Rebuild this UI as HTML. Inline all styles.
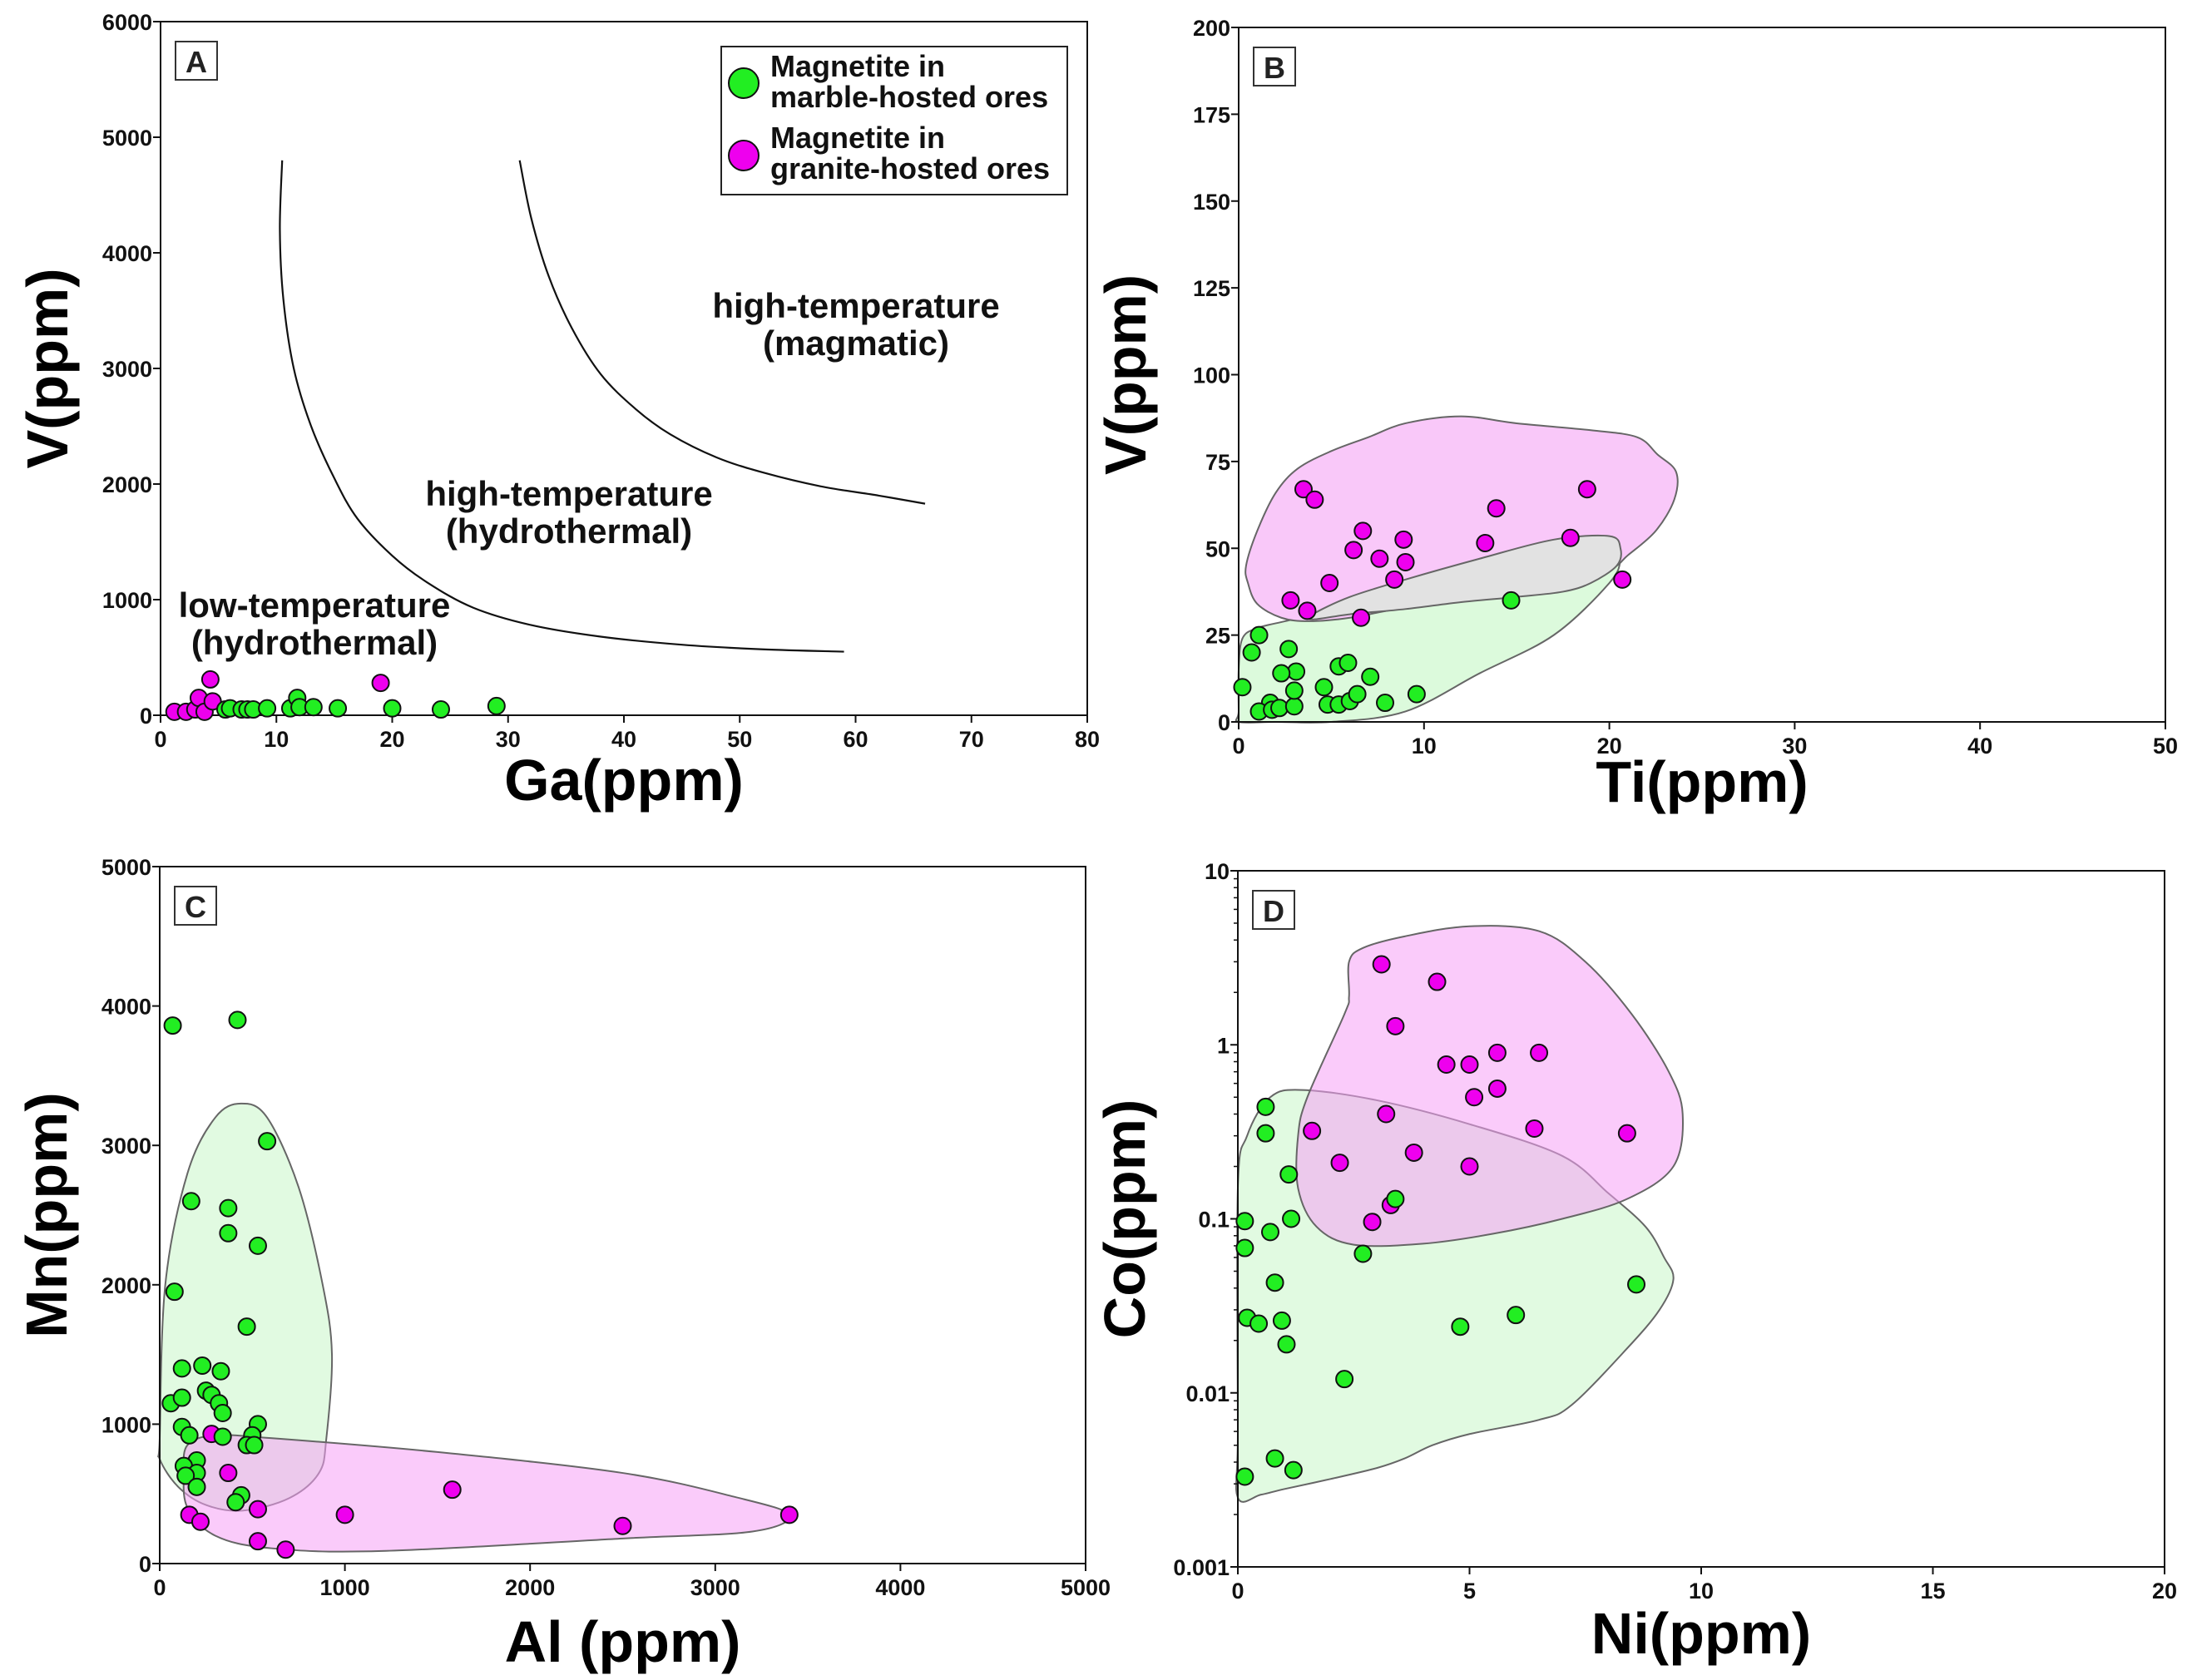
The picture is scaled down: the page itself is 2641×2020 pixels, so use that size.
<!DOCTYPE html>
<html><head><meta charset="utf-8"><style>
html,body{margin:0;padding:0;background:#fff}
svg{display:block}
text{font-family:"Liberation Sans",sans-serif}
.tick{font-family:"Liberation Sans Narrow","Liberation Sans",sans-serif;font-weight:bold;font-size:27px;fill:#111}
.title{font-weight:bold;font-size:70px;fill:#000}
.reg{font-weight:bold;font-size:42px;fill:#111;font-family:"Liberation Sans Narrow","Liberation Sans",sans-serif}
.leg{font-weight:bold;font-size:36px;fill:#111;font-family:"Liberation Sans Narrow","Liberation Sans",sans-serif}
</style></head><body>
<svg id="fig" width="2641" height="2020" viewBox="0 0 2641 2020" xmlns="http://www.w3.org/2000/svg"></svg>
<script>
// ---- Panel A data (Ga vs V)
const aTicksX=[0,10,20,30,40,50,60,70,80];
const aTicksY=[0,1000,2000,3000,4000,5000,6000];
const aGreenX=[5.6,6,7,7.5,8,9.2,11.2,11.8,12,13.2,15.3,20,24.2,29];
const aGreenY=[50,60,50,50,50,60,60,150,70,70,60,60,50,80];
const aMagX=[1.2,2.2,3,3.3,3.8,4.3,4.5,19];
const aMagY=[30,30,50,150,30,310,120,280];
const aCurve1X=[10.5,10.3,10.6,11.5,13,15,17,20,23,27,32,38,45,52,59];
const aCurve1Y=[4800,4200,3600,3000,2500,2050,1700,1380,1150,930,780,680,610,570,550];
const aCurve2X=[31,32,33.5,35.5,38,41,44,48,52,57,62,66];
const aCurve2Y=[4800,4300,3800,3350,2950,2650,2430,2230,2100,1980,1900,1830];
// ---- Panel B data (Ti vs V)
const bTicksX=[0,10,20,30,40,50];
const bTicksY=[0,25,50,75,100,125,150,175,200];
const bMagX=[3.5,4.1,6.7,6.2,7.6,8.9,9,8.4,4.9,2.8,3.7,6.6,13.3,13.9,18.8,17.9,20.7];
const bMagY=[67,64,55,49.5,47,52.5,46,41,40,35,32,30,51.5,61.5,67,53,41];
const bGreenX=[0.2,0.7,1.1,2.7,3.1,2.3,1.7,1.1,1.8,2.2,3,3,4.6,4.8,5.4,5.4,5.9,6,6.4,7.1,7.9,9.6,14.7];
const bGreenY=[10,20,25,21,14.5,14,5.5,3,3.5,4,4.5,9,10,5,5,16,17,6,8,13,5.5,8,35];
const bMagRegX=[0.4,1,2,3.2,5,7,9,12,15,19,21.5,22.6,23.6,23.5,22.5,21,20,17,13,9,6,3.8,2.3,1,0.5];
const bMagRegY=[45,55,66,73,78,82,86,88,86,84,82,77,72,64,55,48,44,40,36,33,30,29,30,34,40];
const bGreenRegX=[0,0,2,5,9,13,17,20,20.6,20.4,19,17,13,9,6,4,2.5,1,0.2,0];
const bGreenRegY=[3,0,0,0,3,14,25,40,47,52,53.5,52,46,41,36,31,29,27,24,15];
const bGreyRegX=[4,6,9,12,15,17.5,19,20.4,20.6,20,17,13,9,6,4];
const bGreyRegY=[29.5,31,32.5,34.5,36,37.5,40,45,50,53.5,52.5,47,41,36,31];
// ---- Panel C data (Al vs Mn)
const cTicksX=[0,1000,2000,3000,4000,5000];
const cTicksY=[0,1000,2000,3000,4000,5000];
const cGreenX=[70,420,580,170,370,370,530,80,470,120,230,330,60,120,250,280,320,340,120,160,340,530,500,470,510,200,130,200,140,200,440,410];
const cGreenY=[3860,3900,3030,2600,2550,2370,2280,1950,1700,1400,1420,1380,1150,1190,1240,1210,1150,1080,980,920,910,1000,920,850,850,740,700,650,630,550,490,440];
const cMagX=[280,370,530,160,220,530,680,1000,1580,2500,3400];
const cMagY=[930,650,390,350,300,160,100,350,530,270,350];
const cGreenRegX=[0,30,150,300,440,580,750,880,930,900,860,700,450,250,100,0];
const cGreenRegY=[900,2000,2800,3200,3300,3200,2700,2000,1500,900,650,470,380,420,550,750];
const cMagRegX=[150,300,600,1500,2500,3100,3400,3200,2500,1200,600,300,150,130];
const cMagRegY=[850,920,900,800,650,480,350,230,180,90,110,200,400,650];
// ---- Panel D data (Ni vs Co, log)
const dTicksX=[0,5,10,15,20];
const dTicksY=[0.001,0.01,0.1,1,10];
const dMagX=[3.1,4.3,3.4,5.6,6.5,4.5,5,5.6,5.1,3.2,1.6,6.4,8.4,3.8,2.2,5,3.3,2.9];
const dMagY=[2.9,2.3,1.28,0.9,0.9,0.77,0.77,0.56,0.5,0.4,0.32,0.33,0.31,0.24,0.21,0.2,0.12,0.096];
const dGreenX=[0.6,0.6,1.1,0.15,1.15,0.7,0.15,3.4,2.7,0.8,8.6,0.2,0.45,0.95,4.8,6,1.05,2.3,0.8,1.2,0.15];
const dGreenY=[0.44,0.31,0.18,0.097,0.1,0.084,0.068,0.13,0.063,0.043,0.042,0.027,0.025,0.026,0.024,0.028,0.019,0.012,0.0042,0.0036,0.0033];
const dMagRegX=[1.3,1.5,2.3,2.4,2.4,2.7,3.6,5,6.5,7.5,8.5,9.3,9.6,9.4,8.4,7,5.5,4,2.5,1.7,1.3];
const dMagRegY=[0.3,0.5,1.5,1.9,3,3.6,4.2,4.8,4.5,3,1.5,0.7,0.4,0.2,0.13,0.1,0.082,0.072,0.071,0.09,0.15];
const dGreenRegX=[0,0,0.5,1,2,3,3.6,4.2,5,6.5,7.2,8.4,9.1,9.4,9.2,8.8,8,7,5,3,1.4,0.7,0.2,0];
const dGreenRegY=[0.006,0.0025,0.0026,0.0028,0.0032,0.0037,0.0042,0.005,0.0058,0.007,0.0085,0.018,0.03,0.045,0.06,0.09,0.14,0.23,0.35,0.48,0.55,0.5,0.3,0.15];

const NS='http://www.w3.org/2000/svg';
const svg=document.getElementById('fig');
function mk(tag,attrs,parent){const e=document.createElementNS(NS,tag);for(const k in attrs)e.setAttribute(k,attrs[k]);(parent||svg).appendChild(e);return e;}

function panel(p){
  const g=mk('g',{});
  
  
  const sx=v=>p.l+(v-p.x0)/(p.x1-p.x0)*(p.r-p.l);
  const sy=p.log? v=>p.b-(Math.log10(v)-Math.log10(p.y0))/(Math.log10(p.y1)-Math.log10(p.y0))*(p.b-p.t)
                 : v=>p.b-(v-p.y0)/(p.y1-p.y0)*(p.b-p.t);
  p.sx=sx;p.sy=sy;p.g=g;
  return p;
}
function region(p,xs,ys,fill,op,name){
  const pts=xs.map((x,i)=>[p.sx(x),p.sy(ys[i])]);
  const n=pts.length;let d='M'+pts[0][0]+','+pts[0][1];
  for(let i=0;i<n;i++){const p0=pts[(i-1+n)%n],p1=pts[i],p2=pts[(i+1)%n],p3=pts[(i+2)%n];
    d+=' C'+(p1[0]+(p2[0]-p0[0])/6)+','+(p1[1]+(p2[1]-p0[1])/6)+' '+(p2[0]-(p3[0]-p1[0])/6)+','+(p2[1]-(p3[1]-p1[1])/6)+' '+p2[0]+','+p2[1];}
  const e=mk('path',{d:d+'Z',fill:fill,'fill-opacity':op,stroke:'#666','stroke-width':2},p.g);
  
  
}
function curve(p,xs,ys,name){
  const pts=xs.map((x,i)=>[p.sx(x),p.sy(ys[i])]);
  let d='M'+pts[0][0]+','+pts[0][1];
  for(let i=0;i<pts.length-1;i++){const p0=pts[Math.max(i-1,0)],p1=pts[i],p2=pts[i+1],p3=pts[Math.min(i+2,pts.length-1)];
    d+=' C'+(p1[0]+(p2[0]-p0[0])/6)+','+(p1[1]+(p2[1]-p0[1])/6)+' '+(p2[0]-(p3[0]-p1[0])/6)+','+(p2[1]-(p3[1]-p1[1])/6)+' '+p2[0]+','+p2[1];}
  const e=mk('path',{d:d,fill:'none',stroke:'#111','stroke-width':2.2},p.g);
  
  
}
function points(p,xs,ys,col,name){
  xs.forEach((x,i)=>{const c=mk('circle',{cx:p.sx(x),cy:p.sy(ys[i]),r:10,fill:col,stroke:'#111','stroke-width':2},p.g);
    
    });
}
function axes(p,tx,ty,xt,yt,xtY){
  const fr=mk('rect',{x:p.l,y:p.t,width:p.r-p.l,height:p.b-p.t,fill:'none',stroke:'#111','stroke-width':2},p.g);
  
  
  tx.forEach(v=>{const x=p.sx(v);mk('line',{x1:x,x2:x,y1:p.b,y2:p.b+9,stroke:'#111','stroke-width':2},p.g);
    const t=mk('text',{x:x,y:p.b+38,'text-anchor':'middle',class:'tick'},p.g);t.textContent=v;
    
    });
  ty.forEach(v=>{const y=p.sy(v);mk('line',{x1:p.l-9,x2:p.l,y1:y,y2:y,stroke:'#111','stroke-width':2},p.g);
    const t=mk('text',{x:p.l-10,y:y+10,'text-anchor':'end',class:'tick'},p.g);t.textContent=v;
    
    });
  if(p.log){for(let e=-3;e<1;e++)for(let m=2;m<10;m++){const y=p.sy(m*Math.pow(10,e));mk('line',{x1:p.l-5,x2:p.l,y1:y,y2:y,stroke:'#111','stroke-width':1.5},p.g);}}
  const xtl=mk('text',{x:(p.l+p.r)/2,y:xtY,'text-anchor':'middle',class:'title'},p.g);xtl.textContent=xt;
  
  
  const cy=(p.t+p.b)/2;
  const ytl=mk('text',{x:0,y:0,'text-anchor':'middle',class:'title',transform:'translate('+(p.l-112)+','+cy+') rotate(-90)'},p.g);ytl.textContent=yt;
  
  
  const bx=p.l+18,by=p.t+24;
  const lb=mk('rect',{x:bx,y:by,width:50,height:46,fill:'#fff',stroke:'#333','stroke-width':2},p.g);
  
  
  const lt=mk('text',{x:bx+25,y:by+37,'text-anchor':'middle','font-weight':'bold','font-size':'36px',fill:'#222'},p.g);lt.textContent=p.id;
  
  
}
const GREEN='#22ee22',MAG='#ee00ee';

// Panel A
const A=panel({id:'A',l:193,r:1307,t:26,b:860,x0:0,x1:80,y0:0,y1:6000});
curve(A,aCurve1X,aCurve1Y,'boundary-curve-low-high');
curve(A,aCurve2X,aCurve2Y,'boundary-curve-hydro-magmatic');
axes(A,aTicksX,aTicksY,'Ga(ppm)','V(ppm)',962);
points(A,aMagX,aMagY,MAG,'granite-point');
points(A,aGreenX,aGreenY,GREEN,'marble-point');
[['high-temperature',1029,382],['(magmatic)',1029,427],['high-temperature',684,608],['(hydrothermal)',684,653],['low-temperature',378,742],['(hydrothermal)',378,787]].forEach(a=>{
  const t=mk('text',{x:a[1],y:a[2],'text-anchor':'middle',class:'reg'},A.g);t.textContent=a[0];
  
  });
const lg=mk('g',{},A.g);


mk('rect',{x:867,y:56,width:416,height:178,fill:'#fff',stroke:'#222','stroke-width':2},lg);
mk('circle',{cx:894,cy:100,r:18,fill:GREEN,stroke:'#111','stroke-width':2},lg);
mk('circle',{cx:894,cy:187,r:18,fill:MAG,stroke:'#111','stroke-width':2},lg);
[['Magnetite in',92],['marble-hosted ores',129],['Magnetite in',178],['granite-hosted ores',215]].forEach(a=>{
  const t=mk('text',{x:926,y:a[1],class:'leg'},lg);t.textContent=a[0];
  
  });

// Panel B
const B=panel({id:'B',l:1489,r:2603,t:33,b:868,x0:0,x1:50,y0:0,y1:200});
region(B,bGreenRegX,bGreenRegY,'#dcfadc',1,'marble-field');
region(B,bMagRegX,bMagRegY,'#f9c8f9',1,'granite-field');
region(B,bGreyRegX,bGreyRegY,'#e2e2e2',1,'overlap-field');
axes(B,bTicksX,bTicksY,'Ti(ppm)','V(ppm)',964);
points(B,bMagX,bMagY,MAG,'granite-point');
points(B,bGreenX,bGreenY,GREEN,'marble-point');

// Panel C
const C=panel({id:'C',l:192,r:1305,t:1042,b:1880,x0:0,x1:5000,y0:0,y1:5000});
region(C,cGreenRegX,cGreenRegY,'#c8f5c8',0.55,'marble-field');
region(C,cMagRegX,cMagRegY,'#f5a0f5',0.55,'granite-field');
axes(C,cTicksX,cTicksY,'Al  (ppm)','Mn(ppm)',1998);
points(C,cMagX,cMagY,MAG,'granite-point');
points(C,cGreenX,cGreenY,GREEN,'marble-point');

// Panel D
const D=panel({id:'D',l:1488,r:2602,t:1047,b:1884,x0:0,x1:20,y0:0.001,y1:10,log:true});
region(D,dGreenRegX,dGreenRegY,'#c8f5c8',0.55,'marble-field');
region(D,dMagRegX,dMagRegY,'#f5a0f5',0.55,'granite-field');
axes(D,dTicksX,dTicksY,'Ni(ppm)','Co(ppm)',1988);
points(D,dMagX,dMagY,MAG,'granite-point');
points(D,dGreenX,dGreenY,GREEN,'marble-point');
</script>
</body></html>
